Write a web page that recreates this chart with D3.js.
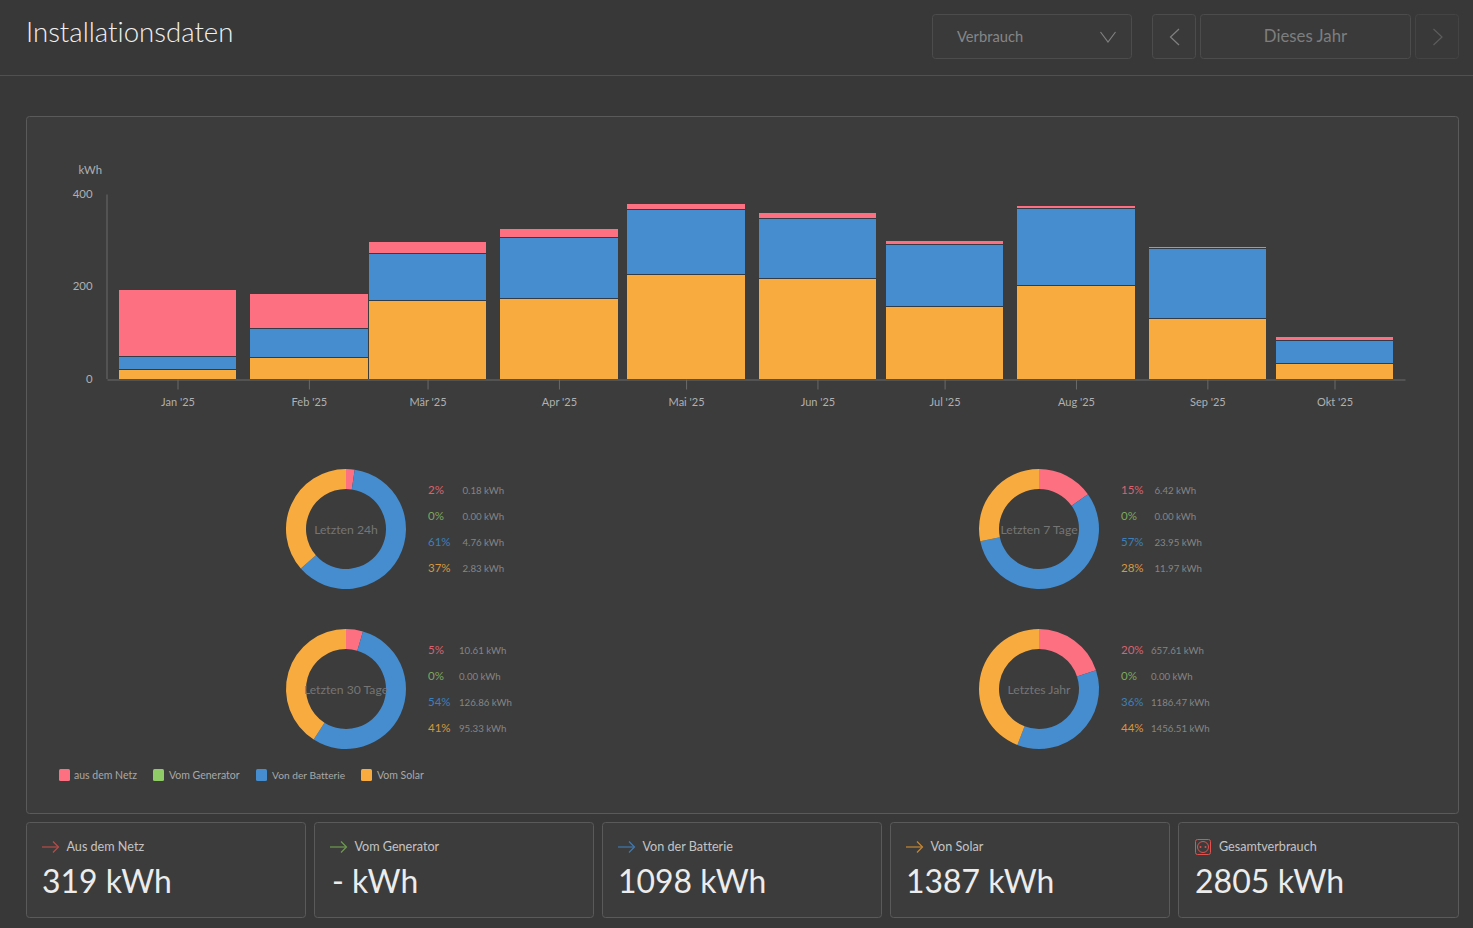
<!DOCTYPE html>
<html><head><meta charset="utf-8">
<script src="https://cdn.jsdelivr.net/npm/d3@7/dist/d3.min.js"></script>
<style>
html,body{margin:0;padding:0;background:#383838;overflow:hidden}
svg{display:block}
text{font-family:Lato,"Open Sans",sans-serif;font-variant-ligatures:none}
</style></head><body>
<svg id="c" width="1473" height="928"></svg>
<script>
// ---- data ----
const monthStarts = ["2025-01-01","2025-02-01","2025-03-01","2025-04-01","2025-05-01","2025-06-01","2025-07-01","2025-08-01","2025-09-01","2025-10-01"];
const monthLabels = ["Jan '25","Feb '25","Mär '25","Apr '25","Mai '25","Jun '25","Jul '25","Aug '25","Sep '25","Okt '25"];
const solarMonthly = [20,46,170,174,226,217.5,157,202,129,33];
const batteryMonthly = [28,63,102,132,141,130,134.5,167,153,50];
const gridMonthly = [145,75,25,19,12,12,8,6,4,8];
const yTicks = [0,200,400];
const seriesNames = ["aus dem Netz","Vom Generator","Von der Batterie","Vom Solar"];
const seriesColors = ["#fd7082","#8fcb66","#458dcf","#f8ab3f"];
const pctColors = ["#d8636f","#7ea85e","#3f7fb8","#d8973d"];
const donutTitles = ["Letzten 24h","Letzten 7 Tage","Letzten 30 Tage","Letztes Jahr"];
const donutGrid = [0.18,6.42,10.61,657.61];
const donutGen = [0,0,0,0];
const donutBattery = [4.76,23.95,126.86,1186.47];
const donutSolar = [2.83,11.97,95.33,1456.51];
const donutPct = [[2,0,61,37],[15,0,57,28],[5,0,54,41],[20,0,36,44]];
const cardTitles = ["Aus dem Netz","Vom Generator","Von der Batterie","Von Solar","Gesamtverbrauch"];
const cardValues = ["319 kWh","- kWh","1098 kWh","1387 kWh","2805 kWh"];
const cardArrowColors = ["#b94c49","#6d9c4c","#3f7ab3","#c98730"];

// ---- layout ----
const svg = d3.select("#c");
const bg="#383838", panel="#3c3c3c", line="#5a5a5a";
svg.append("rect").attr("width",1473).attr("height",928).attr("fill",bg);
svg.append("line").attr("x1",0).attr("x2",1473).attr("y1",75.5).attr("y2",75.5).attr("stroke","#505050");
svg.append("text").attr("x",26).attr("y",42).attr("font-size",27.6).attr("font-weight",300).attr("fill","#f0f0f0").text("Installationsdaten");

function box(x,y,w,h,stroke,fill){svg.append("rect").attr("x",x+.5).attr("y",y+.5).attr("width",w-1).attr("height",h-1).attr("rx",3).attr("fill",fill||panel).attr("stroke",stroke||line);}
function chev(pts,c){svg.append("path").attr("d",d3.line()(pts)).attr("fill","none").attr("stroke",c).attr("stroke-width",1.2);}
box(932,14,200,45,"#4c4c4c","#3a3a3a");
box(1152,14,44,45,"#4c4c4c","#3a3a3a");
box(1200,14,211,45,"#4c4c4c","#3a3a3a");
box(1415,14,44,45,"#444444","#393939");
svg.append("text").attr("x",957).attr("y",42).attr("font-size",14.7).attr("fill","#868686").text("Verbrauch");
svg.append("text").attr("x",1305.5).attr("y",42).attr("text-anchor","middle").attr("font-size",16.8).attr("fill","#7e7e7e").text("Dieses Jahr");
chev([[1100.5,32],[1108,42],[1115.5,32]],"#808080");
chev([[1179,29],[1170.5,37],[1179,45]],"#808080");
chev([[1433.5,29],[1442,37],[1433.5,45]],"#5c5c5c");

box(26,116,1433,698);

// ---- bar chart ----
const x = d3.scaleUtc().domain([new Date(monthStarts[0]),new Date(monthStarts[9])]).range([177.5,1334.5]);
const y = d3.scaleLinear().domain([0,400]).range([379,194.5]);
const xAxisScale = x.copy().domain([x.invert(107),x.invert(1405)]).range([107,1405]);
const axisX = svg.append("g").attr("transform","translate(0,379.5)")
  .call(d3.axisBottom(xAxisScale).tickValues(monthStarts.map(d=>new Date(d))).tickSize(10).tickPadding(9).tickSizeOuter(0)
    .tickFormat((d,i)=>monthLabels[i]));
axisX.selectAll("path,line").attr("stroke","#6a6a6a");
axisX.selectAll("text").attr("font-size",11).attr("fill","#b0b0b0");
const axisY = svg.append("g").attr("transform","translate(106.5,-0.5)")
  .call(d3.axisLeft(y).tickValues(yTicks).tickSize(0).tickPadding(14));
axisY.select("path").attr("stroke","#6a6a6a");
axisY.selectAll("text").attr("font-size",11.4).attr("fill","#b0b0b0");
svg.append("text").attr("x",102).attr("y",174).attr("text-anchor","end").attr("font-size",11.3).attr("fill","#b0b0b0").text("kWh");

const stackKeys=[{v:solarMonthly,c:seriesColors[3]},{v:batteryMonthly,c:seriesColors[2]},{v:gridMonthly,c:seriesColors[0]}];
const seps=[];
monthStarts.forEach((m,i)=>{
  let base=0;
  const cx=x(new Date(m));
  const l=Math.round(cx-58.75), r=Math.round(cx+58.8);
  stackKeys.forEach((s,k)=>{
    const top=base+s.v[i];
    svg.append("rect").attr("x",l).attr("width",r-l)
      .attr("y",y(top)).attr("height",y(base)-y(top)).attr("fill",s.c).attr("shape-rendering","crispEdges");
    if(k<2) seps.push({l,r,top});
    base=top;
  });
});
svg.selectAll(null).data(seps).join("rect").attr("x",d=>d.l).attr("width",d=>d.r-d.l)
  .attr("y",d=>Math.round(y(d.top))-1).attr("height",1).attr("fill","#333c46").attr("shape-rendering","crispEdges");

// ---- donuts ----
const centers=[[346,529],[1039,529],[346,689],[1039,689]];
const kwhOffset=[34.5,33.5,31,30];
const pie=d3.pie().sort(null).value(d=>d);
const arc=d3.arc().innerRadius(40).outerRadius(60);
donutTitles.forEach((t,i)=>{
  const vals=[donutGrid[i],donutGen[i],donutBattery[i],donutSolar[i]];
  const g=svg.append("g").attr("transform",`translate(${centers[i]})`);
  g.selectAll("path").data(pie(vals)).join("path").attr("d",arc).attr("fill",(d,k)=>seriesColors[k]);
  g.append("text").attr("y",5).attr("text-anchor","middle").attr("font-size",12.2).attr("fill","#757575").text(t);
  vals.forEach((v,k)=>{
    const ry=centers[i][1]-39+26*k+4;
    const lx=centers[i][0]+82;
    svg.append("text").attr("x",lx).attr("y",ry).attr("font-size",11.5).attr("fill",pctColors[k]).text(donutPct[i][k]+"%");
    svg.append("text").attr("x",lx+kwhOffset[i]).attr("y",ry).attr("font-size",9.7).attr("fill","#858585").text(v.toFixed(2)+" kWh");
  });
});

// ---- legend ----
const lgX=[59,153,256,361];
const lgSize=[10.5,10.5,10.2,10.5];
seriesNames.forEach((n,i)=>{
  svg.append("rect").attr("x",lgX[i]).attr("y",769).attr("width",11).attr("height",12).attr("rx",1.5).attr("fill",seriesColors[i]);
  svg.append("text").attr("x",lgX[i]+(i==0?15:16)).attr("y",779).attr("font-size",lgSize[i]).attr("fill","#a8a8a8").text(n);
});

// ---- cards ----
const cardX=[26,314,602,890,1178], cardW=[280,280,280,280,281];
cardTitles.forEach((t,i)=>{
  box(cardX[i],822,cardW[i],96);
  const cx=cardX[i]+16;
  if(i<4){
    chev([[cx,847],[cx+16,847]],cardArrowColors[i]);
    chev([[cx+11,841.5],[cx+16.5,847],[cx+11,852.5]],cardArrowColors[i]);
  }else{
    const c="#e0524f";
    svg.append("rect").attr("x",cx+1.5).attr("y",839.5).attr("width",15).attr("height",15).attr("rx",2).attr("fill","none").attr("stroke",c);
    svg.append("circle").attr("cx",cx+9).attr("cy",847).attr("r",5.5).attr("fill","none").attr("stroke",c);
    svg.selectAll(null).data([-2.5,2.5]).join("circle").attr("cx",d=>cx+9+d).attr("cy",847).attr("r",1).attr("fill",c);
  }
  svg.append("text").attr("x",cardX[i]+(i<4?40.5:41)).attr("y",851).attr("font-size",12.6).attr("fill","#c4c4c4").text(t);
  svg.append("text").attr("x",cx+(i==1?2:i==4?1:0)).attr("y",893).attr("font-size",i==4?32.1:31.9).attr("fill","#ececec").text(cardValues[i]);
});
</script>
</body></html>
